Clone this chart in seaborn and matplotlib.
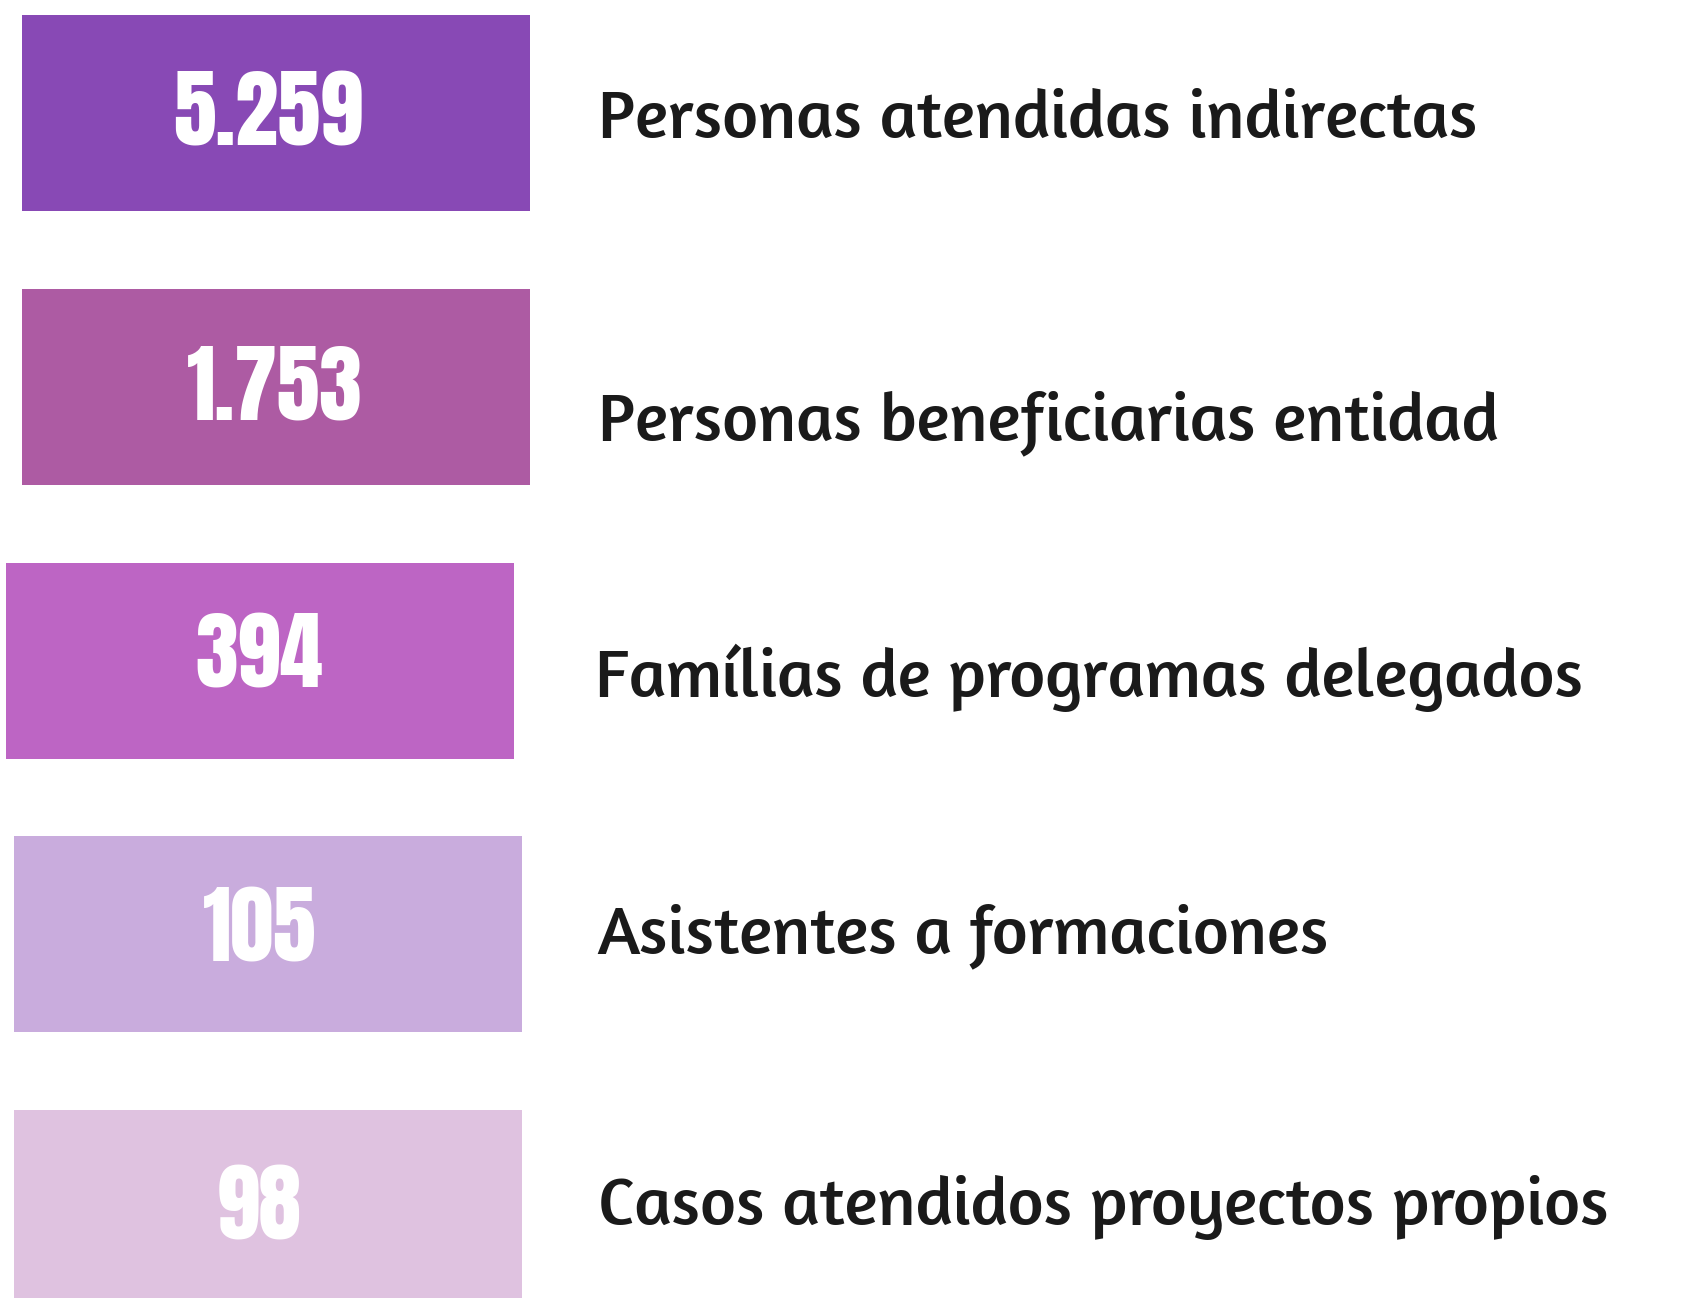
import matplotlib
matplotlib.use("Agg")
import matplotlib.pyplot as plt
import seaborn as sns
from matplotlib import font_manager as fm

sns.set_theme(style="white")

# ---- data ----
values = ["5.259", "1.753", "394", "105", "98"]
labels = [
    "Personas atendidas indirectas",
    "Personas beneficiarias entidad",
    "Famílias de programas delegados",
    "Asistentes a formaciones",
    "Casos atendidos proyectos propios",
]
colors = ["#8849B5", "#AD5BA3", "#BD65C4", "#C9ACDD", "#DFC2E0"]

# ---- layout (pixel coordinates) ----
W, H = 1687, 1298
box_left = [22, 22, 6, 14, 14]
box_right = [530, 530, 514, 522, 522]
box_top = [15, 289, 563, 836, 1110]
box_bottom = [211, 485, 759, 1032, 1298]
num_x = [268, 275, 259, 260, 259]
num_base = [146, 419, 687, 961, 1240]
lab_x = [598, 598, 595, 597, 598]
lab_base = [138, 440, 697, 953, 1225]

avail = {f.name for f in fm.fontManager.ttflist}
num_family = [f for f in ["Anton", "Bebas Neue", "DejaVu Sans"] if f in avail]
lab_family = [f for f in ["Amaranth", "Open Sans", "DejaVu Sans"] if f in avail]

fig = plt.figure(figsize=(W / 100, H / 100), dpi=100)
ax = fig.add_axes([0, 0, 1, 1])
ax.set_xlim(0, W)
ax.set_ylim(H, 0)
ax.axis("off")

centers = [(t + b) / 2 for t, b in zip(box_top, box_bottom)]
heights = [b - t for t, b in zip(box_top, box_bottom)]
widths = [r - l for l, r in zip(box_left, box_right)]
ax.barh(centers, widths, left=box_left, height=heights, color=colors, linewidth=0)

for i in range(len(values)):
    ax.text(num_x[i], num_base[i], values[i], ha="center", va="baseline",
            color="white", fontsize=62, family=num_family)
    ax.text(lab_x[i], lab_base[i], labels[i], ha="left", va="baseline",
            color="#1a1a1a", fontsize=50, fontweight="normal", family=lab_family)

fig.savefig("out.png", dpi=100, facecolor="white")
